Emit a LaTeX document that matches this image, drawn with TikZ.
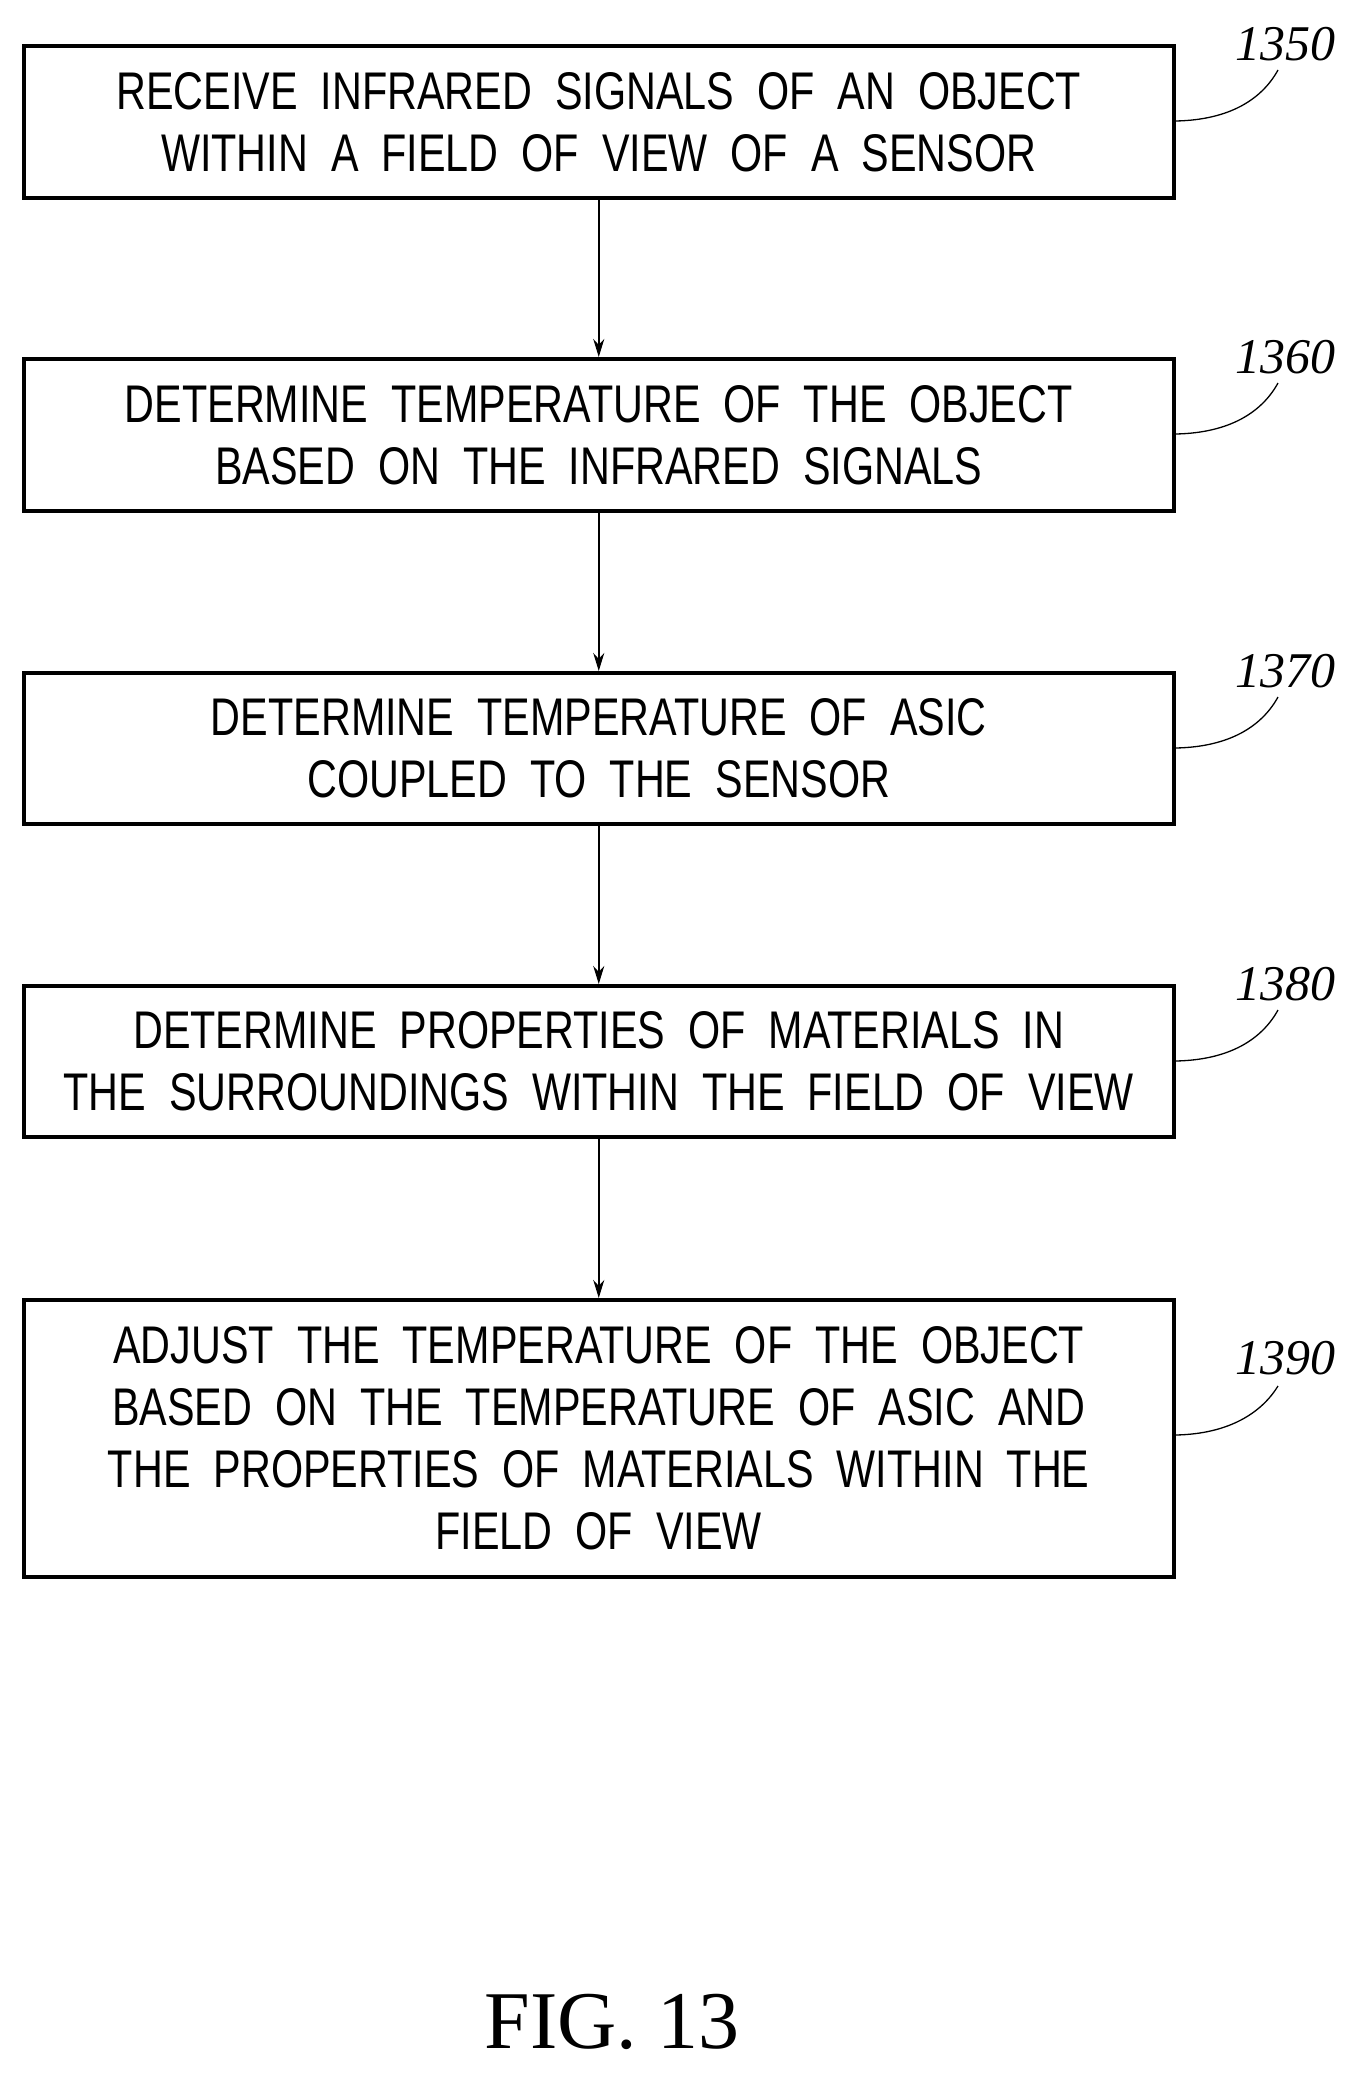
\documentclass[tikz,border=0pt]{standalone}
\usepackage{fontspec}
\setmainfont{Liberation Serif}
\newfontfamily\boxfont[FakeStretch=0.78,WordSpace=2.0]{Liberation Sans}
\usetikzlibrary{arrows.meta}
\begin{document}
\begin{tikzpicture}[x=1pt,y=-1pt,
  stepbox/.style={draw,line width=3.5pt,minimum width=1150pt,align=center,font=\boxfont\fontsize{53}{62}\selectfont,inner sep=0pt,anchor=north west},
  lbl/.style={font=\itshape\fontsize{50}{50}\selectfont},
  lead/.style={line width=1.3pt},
  arr/.style={line width=1.8pt,-{Stealth[length=18pt,width=11pt]}}]
\path[use as bounding box] (0,0) rectangle (1355,2089);
\node[stepbox,minimum height=152pt] (b1) at (22,44) {RECEIVE INFRARED SIGNALS OF AN OBJECT\\WITHIN A FIELD OF VIEW OF A SENSOR};
\node[stepbox,minimum height=152pt] (b2) at (22,357) {DETERMINE TEMPERATURE OF THE OBJECT\\BASED ON THE INFRARED SIGNALS};
\node[stepbox,minimum height=151pt] (b3) at (22,671) {DETERMINE TEMPERATURE OF ASIC\\COUPLED TO THE SENSOR};
\node[stepbox,minimum height=151pt] (b4) at (22,984) {DETERMINE PROPERTIES OF MATERIALS IN\\THE SURROUNDINGS WITHIN THE FIELD OF VIEW};
\node[stepbox,minimum height=277pt] (b5) at (22,1298) {ADJUST THE TEMPERATURE OF THE OBJECT\\BASED ON THE TEMPERATURE OF ASIC AND\\THE PROPERTIES OF MATERIALS WITHIN THE\\FIELD OF VIEW};
\foreach \a/\b in {b1/b2,b2/b3,b3/b4,b4/b5} \draw[arr] (\a.south) -- (\b.north);
\foreach \n/\t/\y in {b1/1350/44,b2/1360/357,b3/1370/671,b4/1380/984} {
  \node[lbl] (l\n) at (1285,\y) {\t};
  \coordinate (e\n) at (1278,\y+26);
  \draw[lead] (\n.east |- 0,\y+77) .. controls (1230,\y+76) and (1262,\y+55) .. (e\n);
}
\node[lbl] (lb5) at (1285,1358) {1390};
\coordinate (eb5) at (1278,1386);
\draw[lead] (b5.east |- 0,1435) .. controls (1230,1434) and (1262,1412) .. (eb5);
\node[font=\fontsize{82}{82}\selectfont] (fig) at (612,2022) {FIG. 13};
\end{tikzpicture}
\end{document}
